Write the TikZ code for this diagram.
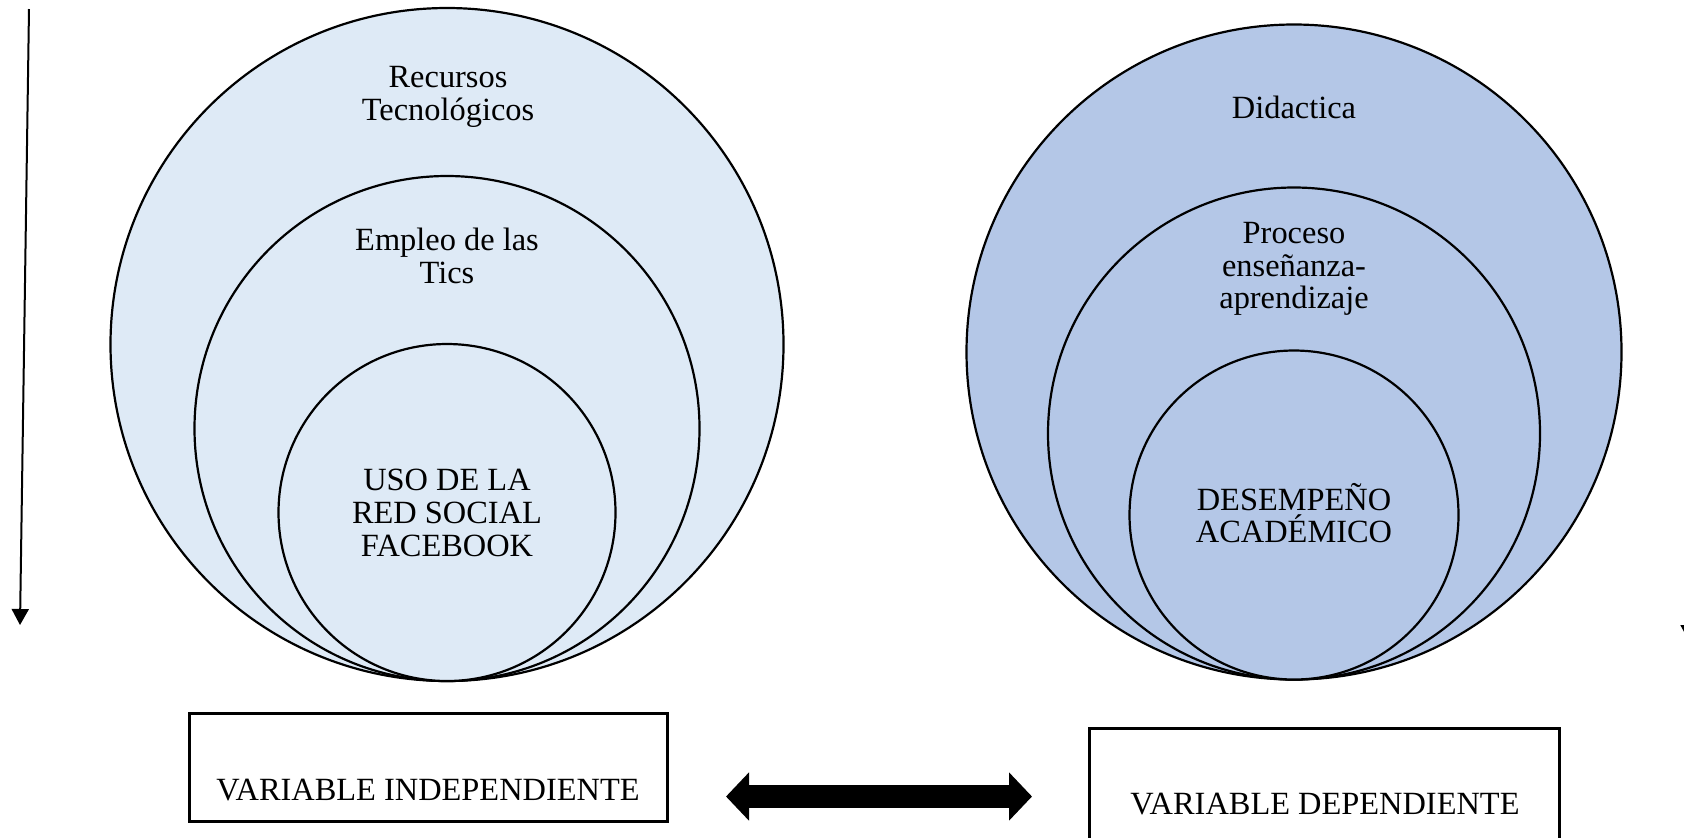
\documentclass[tikz,border=0pt]{standalone}
\usepackage{fontspec}
\setmainfont{Liberation Serif}
\usetikzlibrary{arrows.meta}
\definecolor{lightfill}{HTML}{DEEAF6}
\definecolor{darkfill}{HTML}{B4C7E7}
\begin{document}
\begin{tikzpicture}[x=0.5pt,y=-0.5pt,
  ring/.style={circle,draw=black,line width=1.1pt,inner sep=0pt,outer sep=0pt},
  lbl/.style={align=center,inner sep=0pt,font=\fontsize{16.2pt}{16.4pt}\selectfont},
  varbox/.style={draw=black,line width=1.5pt,inner sep=0pt,outer sep=0pt,anchor=north west},
  vtext/.style={inner sep=0pt,font=\fontsize{16.2pt}{16.4pt}\selectfont}]
\useasboundingbox (0,0) rectangle (1684,837);
\clip (0,0) rectangle (1684,837);
\fill[white] (0,0) rectangle (1684,837);
% left circles
\node[ring,fill=lightfill,minimum size=336.5pt] (L1) at (447,344.5) {};
\node[ring,fill=lightfill,minimum size=252.5pt] (L2) at (447,428.5) {};
\node[ring,fill=lightfill,minimum size=168.5pt] (L3) at (447,512.5) {};
\node[lbl] (t1) at (448,97) {Recursos\\Tecnológicos};
\node[lbl] (t2) at (447,256) {Empleo de las\\Tics};
\node[lbl] (t3) at (447,513) {USO DE LA\\RED SOCIAL\\FACEBOOK};
% right circles
\node[ring,fill=darkfill,minimum size=327.5pt] (R1) at (1294,352) {};
\node[ring,fill=darkfill,minimum size=246pt] (R2) at (1294,433.5) {};
\node[ring,fill=darkfill,minimum size=164.5pt] (R3) at (1294,515) {};
\node[lbl] (u1) at (1294,107) {Didactica};
\node[lbl] (u2) at (1294,269) {Proceso\\enseñanza-\\aprendizaje};
\node[lbl] (u3) at (1294,513) {DESEMPEÑO\\ACADÉMICO};
% boxes
\node[varbox,minimum width=239pt,minimum height=54pt] (B1) at (189,713) {};
\node[vtext] (bt1) at (428,790) {VARIABLE INDEPENDIENTE};
\node[varbox,minimum width=235pt,minimum height=70pt] (B2) at (1089,728) {};
\node[vtext] (bt2) at (1325,804) {VARIABLE DEPENDIENTE};
% double arrow
\coordinate (dl) at (726,796.5);
\coordinate (dr) at (1032,796.5);
\draw[line width=11.5pt,{Triangle[length=11.5pt,width=23.5pt]}-{Triangle[length=11.5pt,width=23.5pt]}] (dl) -- (dr);
% left arrow
\coordinate (a1) at (29,9);
\coordinate (a2) at (20,625);
\draw[line width=1pt,-{Triangle[length=8pt,width=8.5pt]}] (a1) -- (a2);
% right edge arrow (mostly out of frame)
\coordinate (b1) at (1690,9);
\coordinate (b2) at (1689,641);
\draw[line width=1pt,-{Triangle[length=8pt,width=8.5pt]}] (b1) -- (b2);
\end{tikzpicture}
\end{document}
